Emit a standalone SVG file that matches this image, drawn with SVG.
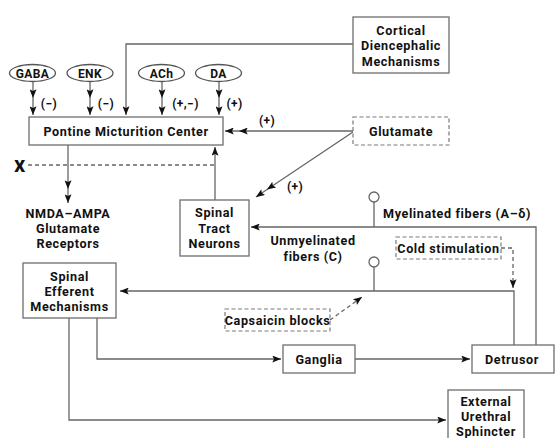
<svg xmlns="http://www.w3.org/2000/svg" width="555" height="438" viewBox="0 0 555 438">
  <style>
    text { font-family: Roboto, "Open Sans", "Liberation Sans", sans-serif; font-weight: bold; fill: #111; font-size: 12.6px; letter-spacing: 0.6px; text-anchor: middle; }
    .lbl { font-size: 12px; letter-spacing: 0.4px; }
    .box { fill: #fff; stroke: #6e6e6e; stroke-width: 1.3; }
    .dbox { fill: #fff; stroke: #7a7a7a; stroke-width: 1.2; stroke-dasharray: 4 2.5; }
    .ell { fill: #fff; stroke: #555; stroke-width: 1.3; }
    .ln { fill: none; stroke: #666; stroke-width: 1.3; }
    .dln { fill: none; stroke: #666; stroke-width: 1.3; stroke-dasharray: 4 3; }
    .bulb { fill: #fff; stroke: #666; stroke-width: 1.3; }
  </style>
  <defs>
    <marker id="arr" viewBox="0 0 10 8" refX="10" refY="4" markerWidth="11" markerHeight="7" markerUnits="userSpaceOnUse" orient="auto">
      <path d="M0,0 L10,4 L0,8 L2,4 Z" fill="#111"/>
    </marker>
  </defs>

  <rect width="555" height="438" fill="#fff"/>

  <!-- connectors -->
  <g id="connectors">
    <!-- neurotransmitter inputs to PMC (double heads) -->
    <path class="ln" d="M33,81 L33,98 L33,115" marker-mid="url(#arr)" marker-end="url(#arr)"/>
    <path class="ln" d="M90,81 L90,98 L90,115" marker-mid="url(#arr)" marker-end="url(#arr)"/>
    <path class="ln" d="M162,81 L162,98 L162,115" marker-mid="url(#arr)" marker-end="url(#arr)"/>
    <path class="ln" d="M219,81 L219,98 L219,115" marker-mid="url(#arr)" marker-end="url(#arr)"/>
    <!-- cortical to PMC -->
    <path class="ln" d="M353,44 L126,44 L126,115" marker-end="url(#arr)"/>
    <!-- glutamate to PMC -->
    <path class="ln" d="M353,131 L239,131 L225,131" marker-mid="url(#arr)" marker-end="url(#arr)"/>
    <!-- glutamate to spinal tract -->
    <path class="ln" d="M353,132 L267,189.5 L256,197" marker-mid="url(#arr)" marker-end="url(#arr)"/>
    <!-- spinal tract up to PMC -->
    <path class="ln" d="M215,200 L215,147" marker-end="url(#arr)"/>
    <!-- blocked pathway -->
    <path class="dln" d="M28,165 L215,165" stroke-dasharray="6 4"/>
    <!-- PMC to NMDA-AMPA receptors -->
    <path class="ln" d="M68,145 L68,189 L68,203" marker-mid="url(#arr)" marker-end="url(#arr)"/>
    <!-- myelinated afferents -->
    <circle class="bulb" cx="374" cy="197" r="5"/>
    <path class="ln" d="M374,202 L374,227"/>
    <path class="ln" d="M536,345 L536,227 L251,227" marker-end="url(#arr)"/>
    <!-- unmyelinated afferents -->
    <circle class="bulb" cx="374" cy="262" r="5"/>
    <path class="ln" d="M374,267 L374,291"/>
    <path class="ln" d="M514,345 L514,291 L120,291" marker-end="url(#arr)"/>
    <!-- cold stimulation -->
    <path class="dln" d="M501,248 L513,248 L513,288" marker-end="url(#arr)"/>
    <!-- capsaicin -->
    <path class="dln" d="M330,320 L362,297" marker-end="url(#arr)"/>
    <!-- efferent outputs -->
    <path class="ln" d="M97,318 L97,359 L281,359" marker-end="url(#arr)"/>
    <path class="ln" d="M355,359 L470,359" marker-end="url(#arr)"/>
    <path class="ln" d="M69,318 L69,420 L446,420" marker-end="url(#arr)"/>
  </g>

  <!-- edge labels -->
  <g id="labels">
    <text class="lbl" x="49" y="108">(−)</text>
    <text class="lbl" x="106" y="108">(−)</text>
    <text class="lbl" x="185.5" y="108">(+,−)</text>
    <text class="lbl" x="234.5" y="108">(+)</text>
    <text class="lbl" x="267" y="125">(+)</text>
    <text class="lbl" x="295" y="191">(+)</text>
    <text x="20" y="172" style="font-size:17px;font-weight:900">X</text>
    <text x="383" y="218" style="text-anchor:start">Myelinated fibers (A–δ)</text>
    <text x="313" y="245">Unmyelinated<tspan x="313" dy="16">fibers (C)</tspan></text>
    <text x="68" y="218">NMDA–AMPA<tspan x="68" dy="15">Glutamate</tspan><tspan x="68" dy="15">Receptors</tspan></text>
  </g>

  <g id="gaba"><ellipse class="ell" cx="32.5" cy="73" rx="23" ry="8.5"/><text x="32.5" y="77.5" class="lbl">GABA</text></g>
  <g id="enk"><ellipse class="ell" cx="90" cy="73" rx="23" ry="8.5"/><text x="90" y="77.5" class="lbl">ENK</text></g>
  <g id="ach"><ellipse class="ell" cx="161.5" cy="73" rx="23" ry="8.5"/><text x="161.5" y="77.5" class="lbl">ACh</text></g>
  <g id="da"><ellipse class="ell" cx="218.5" cy="73" rx="23" ry="8.5"/><text x="218.5" y="77.5" class="lbl">DA</text></g>

  <g id="pmc"><rect class="box" x="29" y="117" width="194" height="28"/><text x="126" y="135.5">Pontine Micturition Center</text></g>

  <g id="cortical"><rect class="box" x="353" y="17" width="96" height="56"/>
    <text x="401" y="35">Cortical<tspan x="401" dy="15">Diencephalic</tspan><tspan x="401" dy="16">Mechanisms</tspan></text></g>

  <g id="glutamate"><rect class="dbox" x="353" y="117" width="96" height="28"/><text x="401" y="135.5">Glutamate</text></g>

  <g id="spinal-tract"><rect class="box" x="180" y="200" width="69" height="56"/>
    <text x="214.5" y="217">Spinal<tspan x="214.5" dy="16">Tract</tspan><tspan x="214.5" dy="15">Neurons</tspan></text></g>

  <g id="spinal-efferent"><rect class="box" x="23" y="263" width="93" height="55"/>
    <text x="69.5" y="281">Spinal<tspan x="69.5" dy="15">Efferent</tspan><tspan x="69.5" dy="15">Mechanisms</tspan></text></g>

  <g id="cold"><rect class="dbox" x="396" y="237" width="105" height="22"/><text x="448.5" y="252.5">Cold stimulation</text></g>

  <g id="capsaicin"><rect class="dbox" x="225" y="309" width="105" height="22"/><text x="277.5" y="324.5">Capsaicin blocks</text></g>

  <g id="ganglia"><rect class="box" x="283" y="345" width="72" height="28"/><text x="319" y="363.5">Ganglia</text></g>

  <g id="detrusor"><rect class="box" x="472" y="345" width="82" height="28"/><text x="512" y="363.5">Detrusor</text></g>

  <g id="sphincter"><rect class="box" x="448" y="390" width="76" height="60"/>
    <text x="486" y="406">External<tspan x="486" dy="15">Urethral</tspan><tspan x="486" dy="14.5">Sphincter</tspan></text></g>
</svg>
